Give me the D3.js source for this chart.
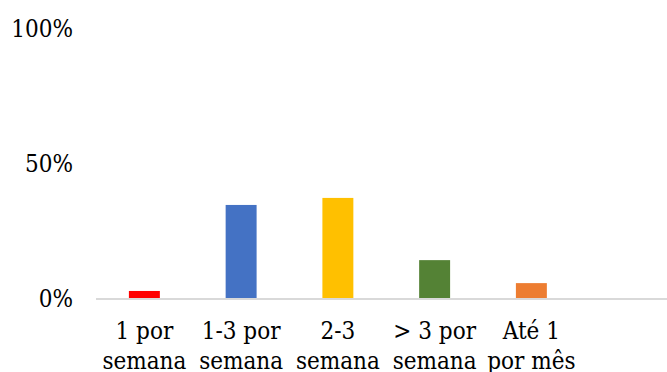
<!DOCTYPE html>
<html>
<head>
<meta charset="utf-8">
<script src="https://cdn.jsdelivr.net/npm/d3@7"></script>
<style>
  html, body { margin: 0; padding: 0; background: #fff; }
  svg { display: block; }
  .lbl { font-family: "DejaVu Serif Condensed", "DejaVu Serif", serif; font-stretch: condensed; font-size: 24px; fill: #000; }
</style>
</head>
<body>
<svg id="chart" width="667" height="372"></svg>
<script>
// Frequency categories (two-line labels) and their shares
const categories = ["1 por|semana", "1-3 por|semana", "2-3|semana", "> 3 por|semana", "Até 1|por mês"];
const values = [0.026, 0.344, 0.370, 0.140, 0.055];
const colors = ["#ff0000", "#4472c4", "#ffc000", "#548235", "#ed7d31"];
const yTicks = [0, 0.5, 1];
const yTickLabels = ["0%", "50%", "100%"];

const svg = d3.select("#chart");
const chartW = 667;
const plotLeft = 96, plotBase = 298, plotTop = 27.5;

// one trailing empty slot keeps the axis running on past the last category
const slots = categories.concat([""]);
const x = d3.scaleBand().domain(slots).range([plotLeft, plotLeft + 96.75 * slots.length]).padding(0);
const y = d3.scaleLinear().domain([0, 1]).range([plotBase, plotTop]);
const barW = x.bandwidth() * 0.32;

// y tick labels
svg.append("g").selectAll("text")
  .data(yTicks)
  .join("text")
  .attr("class", "lbl")
  .attr("x", 73)
  .attr("y", d => y(d) + 9)
  .attr("text-anchor", "end")
  .text((d, i) => yTickLabels[i]);

// bars
svg.append("g").selectAll("rect")
  .data(categories)
  .join("rect")
  .attr("x", d => x(d) + (x.bandwidth() - barW) / 2)
  .attr("y", (d, i) => y(values[i]))
  .attr("width", barW)
  .attr("height", (d, i) => y(0) - y(values[i]))
  .attr("fill", (d, i) => colors[i]);

// category axis line
svg.append("line")
  .attr("x1", plotLeft).attr("x2", chartW)
  .attr("y1", y(0) + 1).attr("y2", y(0) + 1)
  .attr("stroke", "#d9d9d9")
  .attr("stroke-width", 2);

// category labels
const lab = svg.append("g").selectAll("text")
  .data(categories)
  .join("text")
  .attr("class", "lbl")
  .attr("text-anchor", "middle");
lab.each(function (d) {
  const parts = d.split("|");
  const t = d3.select(this);
  parts.forEach((p, j) => {
    t.append("tspan")
      .attr("x", x(d) + x.bandwidth() / 2)
      .attr("y", y(0) + 41 + j * 30)
      .text(p);
  });
});
</script>
</body>
</html>
